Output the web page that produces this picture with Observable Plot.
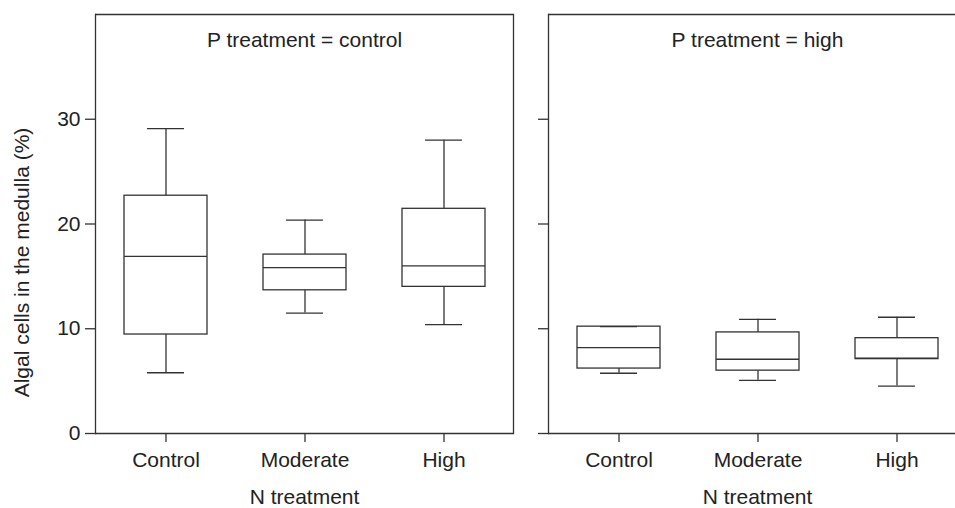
<!DOCTYPE html>
<html><head><meta charset="utf-8">
<script src="https://cdn.jsdelivr.net/npm/d3@7"></script>
<script src="https://cdn.jsdelivr.net/npm/@observablehq/plot@0.6"></script>
<style>html,body{margin:0;padding:0;overflow:hidden;background:#fff;width:955px;height:508px}#chart{width:955px;height:508px;overflow:hidden}#chart svg{max-width:none !important;overflow:hidden !important}</style>
</head><body><div id="chart"></div>
<script>
const nTreatments = ["Control", "Moderate", "High"];
const pLevels = ["control", "high"];
const yTicks = [0, 10, 20, 30];

// P treatment = control
const controlLower  = [5.8, 11.5, 10.4];
const controlQ1     = [9.45, 13.67, 14.0];
const controlMedian = [16.9, 15.83, 16.0];
const controlQ3     = [22.7, 17.08, 21.45];
const controlUpper  = [29.1, 20.37, 28.0];

// P treatment = high
const highLower  = [5.75, 5.08, 4.53];
const highQ1     = [6.2, 6.0, 7.1];
const highMedian = [8.2, 7.09, 7.2];
const highQ3     = [10.2, 9.65, 9.1];
const highUpper  = [10.2, 10.9, 11.1];

const stats = {
  control: [controlLower, controlQ1, controlMedian, controlQ3, controlUpper],
  high: [highLower, highQ1, highMedian, highQ3, highUpper]
};
const rows = [];
pLevels.forEach(p => nTreatments.forEach((n, j) => {
  const [lo, q1, med, q3, hi] = stats[p].map(a => a[j]);
  rows.push({p, n, lo, q1, med, q3, hi});
}));

const ink = "#333";
const sw = 1.3;

const chart = Plot.plot({
  width: 955,
  height: 508,
  marginLeft: 95,
  marginRight: 0,
  marginTop: 14,
  marginBottom: 75,
  style: {fontFamily: "'Liberation Sans', Arial, sans-serif", fontSize: "21px", color: "#222", background: "#fff", maxWidth: "none", overflow: "hidden"},
  fx: {domain: pLevels, range: [95, 966], paddingInner: 0.0773, paddingOuter: 0, axis: null, label: null},
  x: {domain: nTreatments, paddingInner: 0.404, paddingOuter: 0.202},
  y: {domain: [0, 40]},
  marks: [
    Plot.ruleX(rows, {fx: "p", x: "n", y1: "q3", y2: "hi", stroke: ink, strokeWidth: sw}),
    Plot.ruleX(rows, {fx: "p", x: "n", y1: "lo", y2: "q1", stroke: ink, strokeWidth: sw}),
    Plot.barY(rows, {fx: "p", x: "n", y1: "q1", y2: "q3", fill: "white", stroke: ink, strokeWidth: sw}),
    Plot.tickY(rows, {fx: "p", x: "n", y: "med", stroke: ink, strokeWidth: sw}),
    Plot.tickY(rows, {fx: "p", x: "n", y: "hi", stroke: ink, strokeWidth: sw, insetLeft: 23, insetRight: 23}),
    Plot.tickY(rows, {fx: "p", x: "n", y: "lo", stroke: ink, strokeWidth: sw, insetLeft: 23, insetRight: 23}),
    Plot.ruleY([0, 40], {stroke: ink, strokeWidth: sw}),
    Plot.frame({anchor: "left", stroke: ink, strokeWidth: sw}),
    Plot.frame({anchor: "right", facetAnchor: "left", stroke: ink, strokeWidth: sw}),
    Plot.axisY(yTicks, {tickSize: 10, fill: "none", facetAnchor: null, label: null, stroke: ink, strokeWidth: sw}),
    Plot.axisY(yTicks, {tickSize: 0, tickPadding: 15, label: null, fill: "#222"}),
    Plot.axisX({tickSize: 9, tickPadding: 10, label: null, stroke: ink, strokeWidth: sw, fill: "#222"}),
    Plot.text(pLevels, {fx: d => d, text: d => `P treatment = ${d}`, frameAnchor: "top", dy: 26, lineAnchor: "middle", fill: "#222"}),
    Plot.text(pLevels, {fx: d => d, text: () => "N treatment", frameAnchor: "bottom", dy: 64, lineAnchor: "middle", fill: "#222"}),
    Plot.text(["control"], {fx: d => d, text: () => "Algal cells in the medulla (%)", frameAnchor: "left", rotate: -90, dx: -73, dy: 38.5, lineAnchor: "middle", textAnchor: "middle", fill: "#222"})
  ]
});
document.getElementById("chart").appendChild(chart);
</script>
</body></html>
